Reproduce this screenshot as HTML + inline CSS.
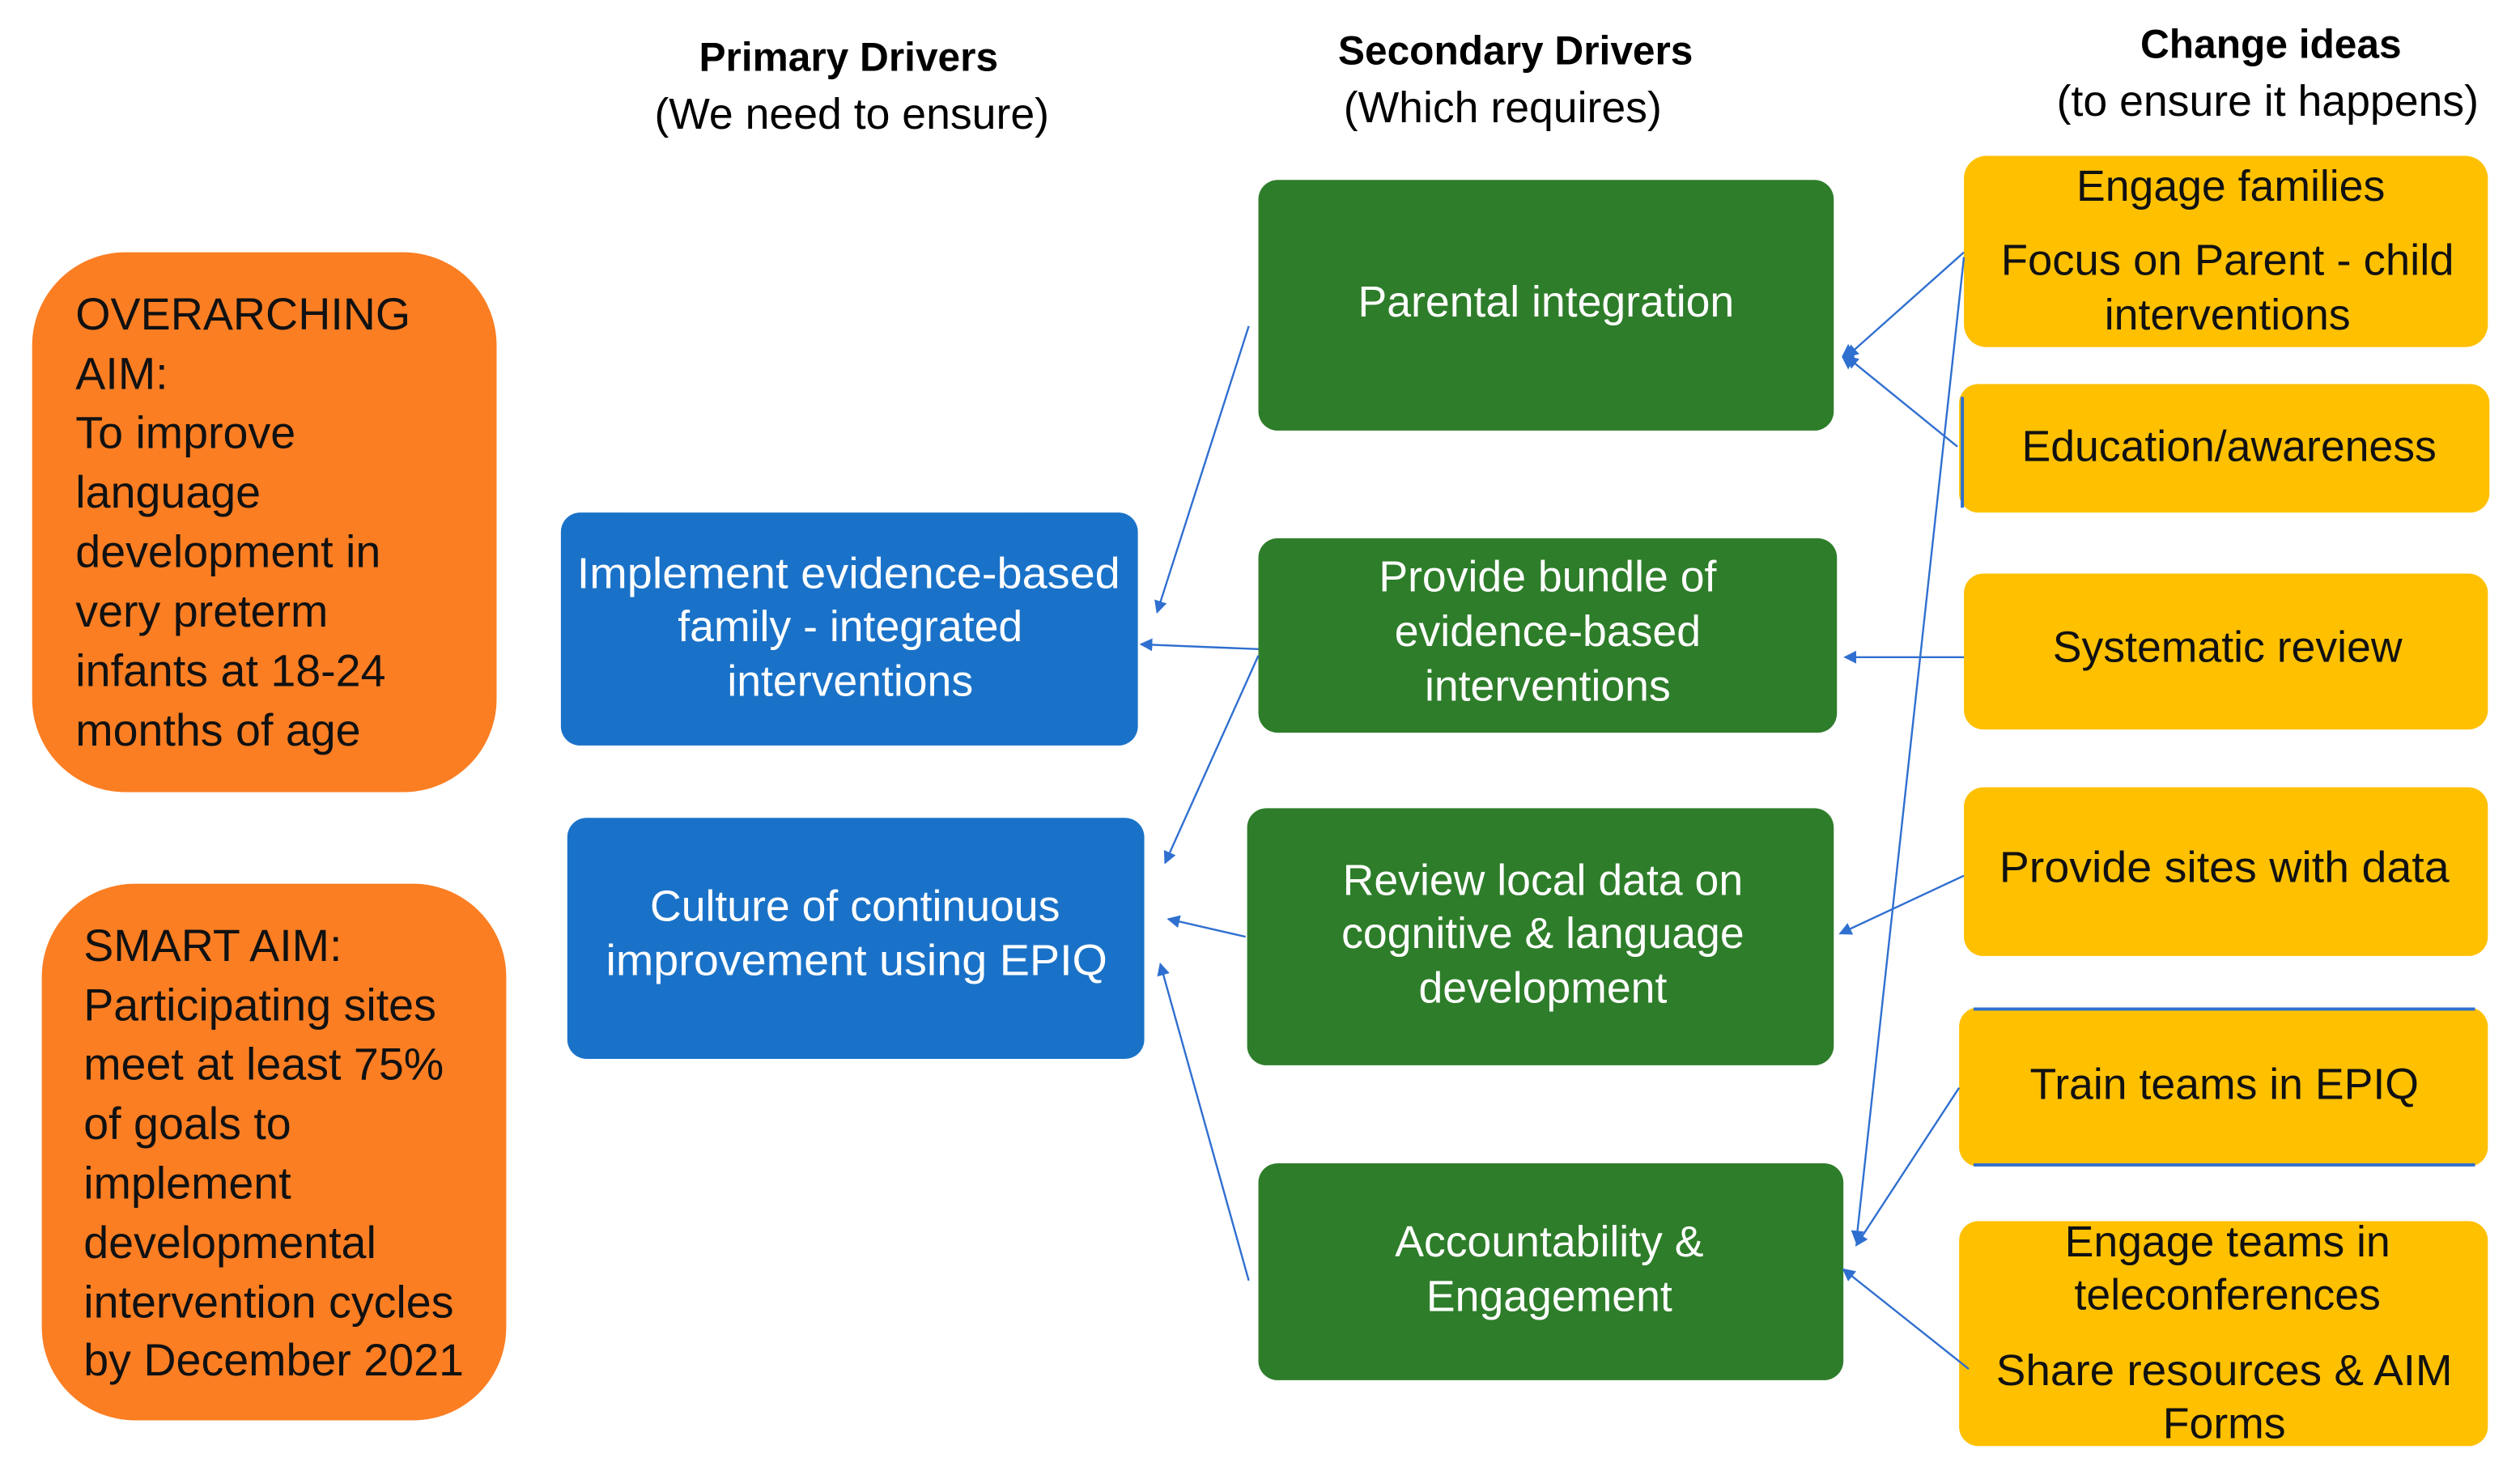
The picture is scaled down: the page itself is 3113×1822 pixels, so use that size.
<!DOCTYPE html>
<html><head><meta charset="utf-8"><style>
html,body{margin:0;padding:0;background:#fff;}
svg{display:block;}
text{font-family:"Liberation Sans",sans-serif;}
</style></head><body>
<svg width="3113" height="1822" viewBox="0 0 1568 918" preserveAspectRatio="none" xmlns="http://www.w3.org/2000/svg">
<defs>
<marker id="a" markerWidth="8" markerHeight="8" refX="7" refY="4" orient="auto" markerUnits="userSpaceOnUse"><path d="M0,0 L8,4 L0,8 z" fill="#2F6FD0"/></marker>
</defs>
<g font-size="27" text-anchor="middle">
<text x="528" y="44" font-weight="bold" font-size="25">Primary Drivers</text>
<text x="530" y="80">(We need to ensure)</text>
<text x="943" y="40" font-weight="bold" font-size="25">Secondary Drivers</text>
<text x="935" y="76">(Which requires)</text>
<text x="1413" y="36" font-weight="bold" font-size="25">Change ideas</text>
<text x="1411" y="72">(to ensure it happens)</text>
</g>
<rect x="20" y="157" width="289" height="336" rx="58" fill="#FB7E23"/>
<rect x="26" y="550" width="289" height="334" rx="58" fill="#FB7E23"/>
<g font-size="28" fill="#111">
<text x="47" y="205">OVERARCHING</text><text x="47" y="242">AIM:</text><text x="47" y="279">To improve</text><text x="47" y="316">language</text><text x="47" y="353">development in</text><text x="47" y="390">very preterm</text><text x="47" y="427">infants at 18-24</text><text x="47" y="464">months of age</text>
<text x="52" y="598">SMART AIM:</text><text x="52" y="635">Participating sites</text><text x="52" y="672">meet at least 75%</text><text x="52" y="709">of goals to</text><text x="52" y="746">implement</text><text x="52" y="783">developmental</text><text x="52" y="820">intervention cycles</text><text x="52" y="856">by December 2021</text>
</g>
<rect x="349" y="319" width="359" height="145" rx="12" fill="#1A72C8"/>
<rect x="353" y="509" width="359" height="150" rx="12" fill="#1A72C8"/>
<rect x="783" y="112" width="358" height="156" rx="12" fill="#2E7D2A"/>
<rect x="783" y="335" width="360" height="121" rx="12" fill="#2E7D2A"/>
<rect x="776" y="503" width="365" height="160" rx="12" fill="#2E7D2A"/>
<rect x="783" y="724" width="364" height="135" rx="12" fill="#2E7D2A"/>
<g font-size="27" fill="#fff" text-anchor="middle">
<text x="528" y="366" textLength="338" lengthAdjust="spacingAndGlyphs">Implement evidence-based</text><text x="529" y="399">family - integrated</text><text x="529" y="433">interventions</text>
<text x="532" y="573">Culture of continuous</text><text x="533" y="607" textLength="312" lengthAdjust="spacingAndGlyphs">improvement using EPIQ</text>
<text x="962" y="197">Parental integration</text>
<text x="963" y="368">Provide bundle of</text><text x="963" y="402">evidence-based</text><text x="963" y="436">interventions</text>
<text x="960" y="557">Review local data on</text><text x="960" y="590">cognitive &amp; language</text><text x="960" y="624">development</text>
<text x="964" y="782">Accountability &amp;</text><text x="964" y="816">Engagement</text>
</g>
<g fill="#FFC000">
<rect x="1222" y="97" width="326" height="119" rx="14"/>
<rect x="1219" y="239" width="330" height="80" rx="12"/>
<rect x="1222" y="357" width="326" height="97" rx="12"/>
<rect x="1222" y="490" width="326" height="105" rx="12"/>
<rect x="1219" y="627" width="329" height="99" rx="12"/>
<rect x="1219" y="760" width="329" height="140" rx="12"/>
</g>
<path d="M1221,247 V316" stroke="#2F6FD0" stroke-width="2" fill="none"/>
<path d="M1228,628 H1540 M1228,725 H1540" stroke="#2F6FD0" stroke-width="2" fill="none"/>
<g font-size="27" fill="#111" text-anchor="middle">
<text x="1388" y="125">Engage families</text><text x="1386" y="171" textLength="282" lengthAdjust="spacingAndGlyphs">Focus on Parent - child</text><text x="1386" y="205">interventions</text>
<text x="1387" y="287">Education/awareness</text>
<text x="1386" y="412">Systematic review</text>
<text x="1384" y="549" textLength="280" lengthAdjust="spacingAndGlyphs">Provide sites with data</text>
<text x="1384" y="684">Train teams in EPIQ</text>
<text x="1386" y="782">Engage teams in</text><text x="1386" y="815">teleconferences</text><text x="1384" y="862" textLength="284" lengthAdjust="spacingAndGlyphs">Share resources &amp; AIM</text><text x="1384" y="895">Forms</text>
</g>
<g stroke="#2F6FD0" stroke-width="1.2" fill="none" marker-end="url(#a)">
<path d="M777,203 L720,381"/>
<path d="M783,404 L710,401"/>
<path d="M783,408 L725,537"/>
<path d="M777,797 L722,600"/>
<path d="M775,583 L727,572"/>
<path d="M1222,157 L1149,222"/>
<path d="M1218,278 L1149,222"/>
<path d="M1222,409 L1148,409"/>
<path d="M1222,545 L1145,581"/>
<path d="M1222,160 L1155,773"/>
<path d="M1219,677 L1155,775"/>
<path d="M1225,852 L1147,790"/>
</g>
<path d="M1150,214 L1154,222 L1150,230 L1146,222 z" fill="#2F6FD0"/>
</svg>
</body></html>
